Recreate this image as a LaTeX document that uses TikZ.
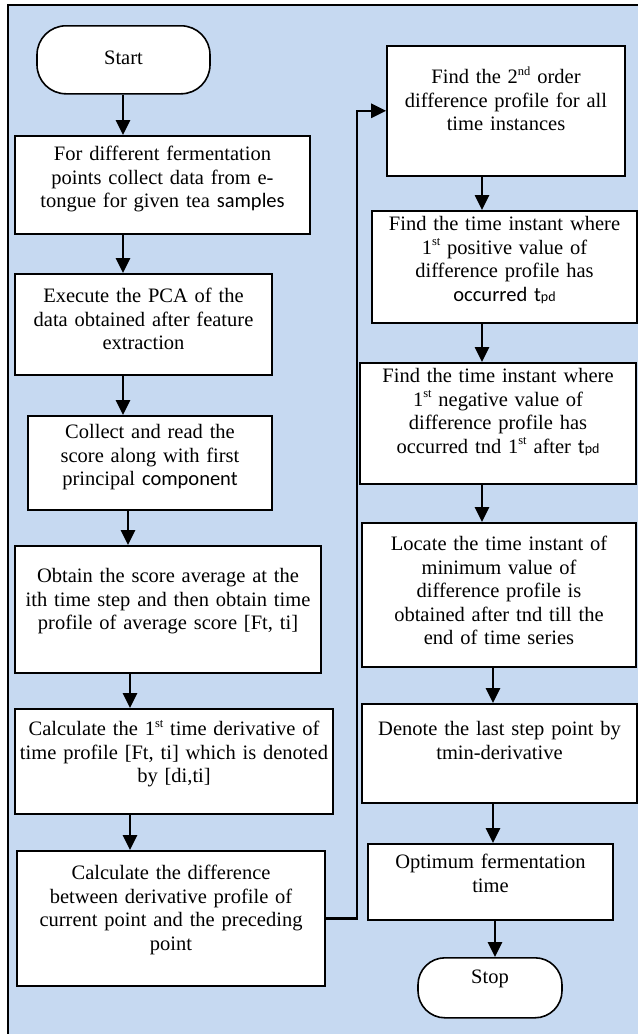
\documentclass[tikz,border=0pt]{standalone}
\usepackage{fontspec}
\setmainfont{Liberation Serif}
\newfontfamily\sansbit{Carlito}
\usetikzlibrary{arrows.meta}
\definecolor{panelblue}{HTML}{C6D9F1}
% body text size: 20.5pt on a 23.5pt baseline
\newcommand{\bodyfont}{\fontsize{20.5}{23.5}\selectfont}
% small raised ordinal suffix
\newcommand{\ordsup}[1]{\raisebox{0.42em}{\fontsize{12.5}{12.5}\selectfont #1}}
% "t" with small "pd" in the sans face
\newcommand{\tpdmark}{{\sansbit t{\fontsize{14}{14}\selectfont pd}}}
\tikzset{
  stepbox/.style={draw, line width=1.6pt, fill=white, inner sep=0pt,
    align=center, anchor=north, font=\bodyfont},
  endbox/.style={stepbox, rounded corners=29pt},
  arr/.style={line width=2.6pt, -{Triangle[length=15pt,width=14pt]}},
}
\begin{document}
\begin{tikzpicture}[x=1pt, y=-1pt]
  \useasboundingbox (0,0) rectangle (638,1034);
  % panel
  \fill[panelblue] (8,5) rectangle (638,1034);
  \draw[line width=1.6pt] (8,1034) -- (8,5) -- (638,5);

  % left column
  \node[endbox, text width=173pt, text height=39pt, text depth=29pt] (start) at (123.5,25) {Start};
  \node[stepbox, text width=295pt, text height=25pt, text depth=73pt] (b1) at (162.5,135)
    {For different fermentation\\ points collect data from e-\\ tongue for given tea {\sansbit samples}};
  \node[stepbox, text width=257pt, text height=29pt, text depth=72pt] (b2) at (143.5,273)
    {Execute the PCA of the\\ data obtained after feature\\ extraction};
  \node[stepbox, text width=244pt, text height=23pt, text depth=71pt] (b3) at (150,415)
    {Collect and read the\\ score along with first\\ principal {\sansbit component}};
  \node[stepbox, text width=306pt, text height=37pt, text depth=90pt] (b4) at (168,545)
    {Obtain the score average at the\\ ith time step and then obtain time\\ profile of average score [Ft, ti]};
  \node[stepbox, text width=318pt, text height=27pt, text depth=78pt] (b5) at (174,708)
    {Calculate the 1\ordsup{st} time derivative of\\ time profile [Ft, ti] which is denoted\\ by [di,ti]};
  \node[stepbox, text width=308pt, text height=29pt, text depth=106pt] (b6) at (171,850)
    {Calculate the difference\\ between derivative profile of\\ current point and the preceding\\ point};

  % right column
  \node[stepbox, text width=238pt, text height=38pt, text depth=92pt] (b7) at (506,45)
    {Find the 2\ordsup{nd} order\\ difference profile for all\\ time instances};
  \node[stepbox, text width=265pt, text height=20pt, text depth=92pt] (b8) at (504.5,210)
    {Find the time instant where\\ 1\ordsup{st} positive value of\\ difference profile has\\ {\sansbit occurred \tpdmark}};
  \node[stepbox, text width=276pt, text height=20pt, text depth=101pt] (b9) at (498,362)
    {Find the time instant where\\ 1\ordsup{st} negative value of\\ difference profile has\\ occurred tnd 1\ordsup{st} after \tpdmark};
  \node[stepbox, text width=274pt, text height=28pt, text depth=116pt] (b10) at (499,522)
    {Locate the time instant of\\ minimum value of\\ difference profile is\\ obtained after tnd till the\\ end of time series};
  \node[stepbox, text width=275pt, text height=32pt, text depth=67pt] (b11) at (499.5,703)
    {Denote the last step point by\\ tmin-derivative};
  \node[stepbox, text width=245pt, text height=25pt, text depth=51pt] (b12) at (490.5,843)
    {Optimum fermentation\\ time};
  \node[endbox, text width=144pt, text height=26pt, text depth=34pt, rounded corners=27pt] (stop) at (490,957) {Stop};

  % flow, left column
  \draw[arr] (start.south -| 123,0) -- (b1.north -| 123,0);
  \draw[arr] (b1.south -| 123,0) -- (b2.north -| 123,0);
  \draw[arr] (b2.south -| 123,0) -- (b3.north -| 123,0);
  \draw[arr] (b3.south -| 128,0) -- (b4.north -| 128,0);
  \draw[arr] (b4.south -| 130,0) -- (b5.north -| 130,0);
  \draw[arr] (b5.south -| 130,0) -- (b6.north -| 130,0);

  % hand-over to the right column
  \draw[arr] (b6.east) -- ++(31,0) |- (b7.west);

  % flow, right column
  \draw[arr] (b7.south -| 482,0) -- (b8.north -| 482,0);
  \draw[arr] (b8.south -| 482,0) -- (b9.north -| 482,0);
  \draw[arr] (b9.south -| 482,0) -- (b10.north -| 482,0);
  \draw[arr] (b10.south -| 493,0) -- (b11.north -| 493,0);
  \draw[arr] (b11.south -| 493,0) -- (b12.north -| 493,0);
  \draw[arr] (b12.south -| 495,0) -- (stop.north -| 495,0);
\end{tikzpicture}
\end{document}
